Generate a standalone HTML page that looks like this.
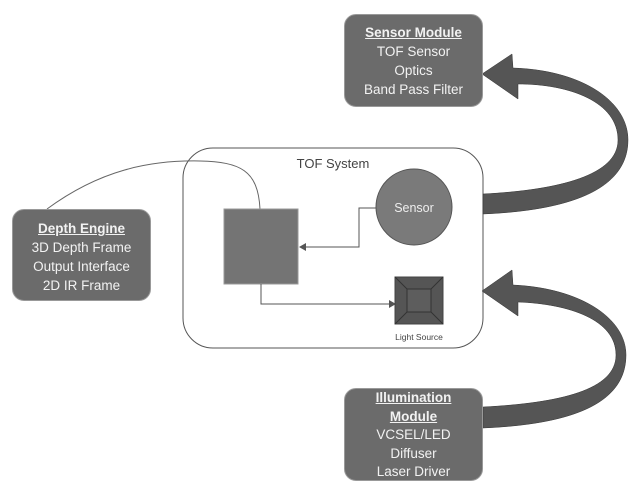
<!DOCTYPE html>
<html><head><style>
body{margin:0;background:#fff;width:643px;height:485px;overflow:hidden;font-family:"Liberation Sans",sans-serif}
.b{position:absolute;background:#6b6b6b;border:1px solid #999;border-radius:12px;color:#f2f2f2;text-align:center;font-size:13.5px;line-height:19px;box-sizing:border-box}
.b u{font-weight:bold}
</style></head><body>
<svg width="643" height="485" style="position:absolute;left:0;top:0">
<rect x="183" y="148" width="300" height="200" rx="30" fill="none" stroke="#555" stroke-width="1"/>
<path d="M47 209 C100 170 150 160 200 161 C240 162 258 170 260 209" fill="none" stroke="#666" stroke-width="1"/>
<rect x="224" y="209" width="74" height="75" fill="#747474" stroke="#999"/>
<circle cx="414" cy="207" r="38" fill="#7a7a7a" stroke="#555"/>
<text x="414" y="212" font-size="12.5" fill="#eee" text-anchor="middle" font-family="Liberation Sans">Sensor</text>
<polyline points="376,208 359,208 359,247 304,247" fill="none" stroke="#555"/>
<polygon points="299,247 306,243 306,251" fill="#555"/>
<polyline points="261,284 261,304 391,304" fill="none" stroke="#555"/>
<polygon points="396,304 389,300 389,308" fill="#555"/>
<rect x="395" y="277" width="48" height="47" fill="#555" stroke="#444"/>
<rect x="407" y="289" width="24" height="23" fill="#5d5d5d" stroke="#333"/>
<path d="M395 277 L407 289 M443 277 L431 289 M395 324 L407 312 M443 324 L431 312" stroke="#333"/>
<text x="419" y="340" font-size="8.5" fill="#444" text-anchor="middle" font-family="Liberation Sans">Light Source</text>
<text x="333" y="168" font-size="13" fill="#444" text-anchor="middle" font-family="Liberation Sans">TOF System</text>
<path d="M483 194 C560 190 618 175 618 140 C618 102 570 84 518 84 L518 99 L482 74 L512 54 L513 68 C580 70 628 100 628 140 C628 185 580 210 483 214 Z" fill="#555" stroke="#333" stroke-width="0.5"/>
<path d="M483 407 C560 403 616 390 616 355 C616 320 570 304 518 302 L518 316 L482 291 L512 270 L513 285 C580 288 626 318 626 355 C626 400 580 424 483 428 Z" fill="#555" stroke="#333" stroke-width="0.5"/>
</svg>
<div class="b" style="left:344px;top:14px;width:139px;height:93px;padding-top:8px"><u>Sensor Module</u><br>TOF Sensor<br>Optics<br>Band Pass Filter</div>
<div class="b" style="left:12px;top:209px;width:139px;height:92px;padding-top:9px"><u>Depth Engine</u><br>3D Depth Frame<br>Output Interface<br>2D IR Frame</div>
<div class="b" style="left:344px;top:388px;width:139px;height:93px;padding-top:0px;line-height:18.5px"><u>Illumination</u><br><u>Module</u><br>VCSEL/LED<br>Diffuser<br>Laser Driver</div>
</body></html>
